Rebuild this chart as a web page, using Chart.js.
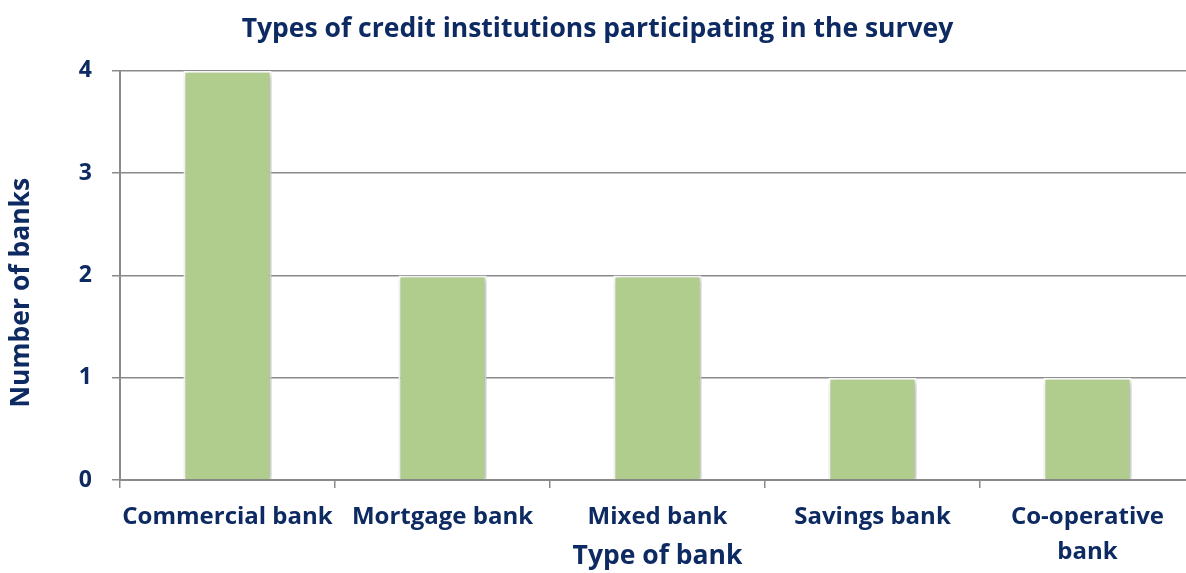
<!DOCTYPE html>
<html><head><meta charset="utf-8">
<script src="https://cdn.jsdelivr.net/npm/chart.js@4/dist/chart.umd.min.js"></script>
<style>html,body{margin:0;padding:0;overflow:hidden;background:#fff}#wrap{width:1200px;height:573px}</style>
</head><body><div id="wrap"><canvas id="c"></canvas></div>
<script>
const categories = [["Commercial bank"], ["Mortgage bank"], ["Mixed bank"], ["Savings bank"], ["Co-operative", "bank"]];
const bankCounts = [4, 2, 2, 1, 1];
const yTicks = [0, 1, 2, 3, 4];

const navy = '#0d2a62';
const FONT = '"Open Sans", Lato, sans-serif';

const shadowPlugin = {
  id: 'barShadow',
  beforeDatasetDraw(chart) {
    const ctx = chart.ctx; ctx.save();
    ctx.shadowColor = 'rgba(0,0,0,0.28)'; ctx.shadowBlur = 6; ctx.shadowOffsetX = 2; ctx.shadowOffsetY = 2;
  },
  afterDatasetDraw(chart) { chart.ctx.restore(); }
};

new Chart(document.getElementById('c'), {
  type: 'bar',
  data: { labels: categories, datasets: [{ data: bankCounts, backgroundColor: '#b0cd8e', borderColor: '#ffffff', borderWidth: 2, barPercentage: 0.41, categoryPercentage: 1 }] },
  options: {
    responsive: true, maintainAspectRatio: false, animation: false,
    layout: { padding: { left: 0, right: 5, top: 0, bottom: 0 } },
    plugins: {
      legend: { display: false }, tooltip: { enabled: false },
      title: { display: true, text: 'Types of credit institutions participating in the survey', color: navy, font: { family: FONT, size: 26.5, weight: 'bold' }, padding: { top: 14, bottom: 25 } }
    },
    scales: {
      x: {
        grid: { display: true, drawOnChartArea: false, drawTicks: true, tickLength: 8, color: '#8a8a8a', lineWidth: 1.5 },
        border: { display: true, color: '#8a8a8a', width: 2 },
        ticks: { color: navy, font: { family: FONT, size: 24, weight: 'bold', lineHeight: 1.46 }, padding: 11.5, maxRotation: 0, autoSkip: false },
        title: { display: true, text: 'Type of bank', color: navy, font: { family: FONT, size: 26.5, weight: 'bold' }, padding: { top: 0, bottom: 1 } },
        afterFit(s) { s.height = 93; }
      },
      y: {
        min: 0, max: 4,
        afterBuildTicks(s) { s.ticks = yTicks.map(v => ({ value: v })); },
        grid: { color: '#8a8a8a', lineWidth: 1.5, tickLength: 8 },
        border: { display: true, color: '#8a8a8a', width: 2 },
        ticks: { color: navy, font: { family: FONT, size: 23, weight: 'bold' }, padding: 20 },
        title: { display: true, text: 'Number of banks\u00a0\u00a0\u00a0\u00a0\u00a0', color: navy, font: { family: FONT, size: 26.5, weight: 'bold' }, padding: { top: 6, bottom: 0 } },
        afterFit(s) { s.width = 120; }
      }
    }
  },
  plugins: [shadowPlugin]
});
</script></body></html>
